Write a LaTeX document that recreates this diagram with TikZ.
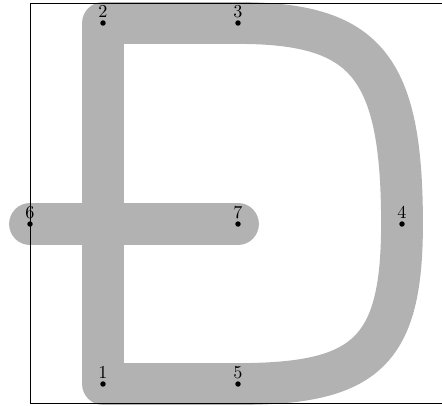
\documentclass[tikz,border=0pt]{standalone}
\usetikzlibrary{backgrounds}
\begin{document}
\begin{tikzpicture}[x=0.55pt,y=-0.55pt,
    dot/.style={circle,fill,inner sep=0pt,minimum size=3pt},
    num/.style={inner sep=1pt},
    band/.style={line width=23pt,black!30,line cap=round,line join=round}]
  \useasboundingbox (0,0) rectangle (442,405);
  \node[dot,label={[num]above:1}] (p1) at (103,384) {};
  \node[dot,label={[num]above:2}] (p2) at (103,23) {};
  \node[dot,label={[num]above:3}] (p3) at (238,23) {};
  \node[dot,label={[num]above:4}] (p4) at (402,224) {};
  \node[dot,label={[num]above:5}] (p5) at (238,384) {};
  \node[dot,label={[num]above:6}] (p6) at (30,224) {};
  \node[dot,label={[num]above:7}] (p7) at (238,224) {};
  \begin{scope}[on background layer]
    \draw[band] (p1.center) -- (p2.center) -- (p3.center)
      .. controls +(128,0) and +(0,-158) .. (p4.center)
      .. controls +(0,128) and +(128,0) .. (p5.center) -- cycle;
    \draw[band] (p6.center) -- (p7.center);
    \draw (30,3) rectangle (445,403.5);
  \end{scope}
\end{tikzpicture}
\end{document}
